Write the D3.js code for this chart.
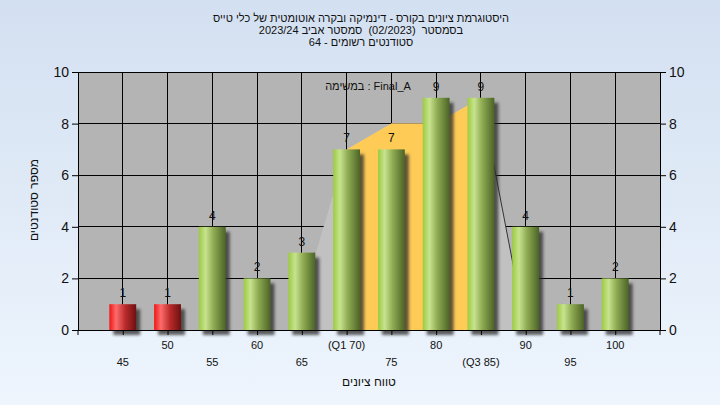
<!DOCTYPE html>
<html><head><meta charset="utf-8">
<script src="https://cdn.jsdelivr.net/npm/d3@7"></script>
<style>
html,body{margin:0;padding:0;}
svg{display:block;font-family:"Liberation Sans",Arial,sans-serif;}
text{white-space:pre;}
</style></head>
<body>
<svg id="c" width="720" height="405"></svg>
<script>
// ---- data ----
const bins = [45, 50, 55, 60, 65, 70, 75, 80, 85, 90, 95, 100];
const counts = [1, 1, 4, 2, 3, 7, 7, 9, 9, 4, 1, 2];
const failBins = [45, 50];
const xTickLabels = ["45", "50", "55", "60", "65", "(Q1 70)", "75", "80", "(Q3 85)", "90", "95", "100"];
const yTicks = [0, 2, 4, 6, 8, 10];
const q1 = 70, q3 = 85;
const areaX = [64, 70, 75, 80, 85, 90];
const areaY = [0, 7, 8, 8, 9, 0];
const titleLines = [
  "היסטוגרמת ציונים בקורס - דינמיקה ובקרה אוטומטית של כלי טייס",
  "בסמסטר  (02/2023)  סמסטר אביב 2023/24",
  "סטודנטים רשומים - 64"
];
const legendText = "במשימה : Final_A";
const xTitle = "טווח ציונים";
const yTitle = "מספר סטודנטים";

// ---- layout ----
const W = 720, H = 405;
const L = 78, R = 660, T = 72, B = 330;
const svg = d3.select("#c");
const defs = svg.append("defs");

const bg = defs.append("linearGradient").attr("id","bg").attr("x1",0).attr("y1",0).attr("x2",0).attr("y2",1);
bg.append("stop").attr("offset","0%").attr("stop-color","#d3e0f1");
bg.append("stop").attr("offset","100%").attr("stop-color","#eef5fd");

function cyl(id, stops){
  const g = defs.append("linearGradient").attr("id",id).attr("x1",0).attr("y1",0).attr("x2",1).attr("y2",0);
  stops.forEach(s=>g.append("stop").attr("offset",s[0]).attr("stop-color",s[1]));
}
cyl("gGreen", [["0%","#9ccb3f"],["25%","#c7e38f"],["55%","#8eab52"],["100%","#4c6326"]]);
cyl("gRed", [["0%","#ee1515"],["25%","#ff6b6b"],["60%","#b82a2a"],["100%","#6e1010"]]);

const blur = defs.append("filter").attr("id","blur").attr("x","-50%").attr("y","-50%").attr("width","200%").attr("height","200%");
blur.append("feGaussianBlur").attr("stdDeviation",1.8);

svg.append("rect").attr("width",W).attr("height",H).attr("fill","url(#bg)");

const x = d3.scaleLinear().domain([40,105]).range([L,R]);
const y = d3.scaleLinear().domain([0,10]).range([B,T]);

// plot background
svg.append("rect").attr("x",L).attr("y",T).attr("width",R-L).attr("height",B-T).attr("fill","#b4b4b4");

// grid
const grid = svg.append("g").attr("stroke","#000").attr("stroke-width",1).attr("shape-rendering","crispEdges");
yTicks.forEach(v=>grid.append("line").attr("x1",L).attr("x2",R).attr("y1",y(v)).attr("y2",y(v)));
bins.forEach(v=>grid.append("line").attr("x1",x(v)).attr("x2",x(v)).attr("y1",T).attr("y2",B));

// areas
const pts = areaX.map((v,i)=>[v, areaY[i]]);
const areaGen = d3.area().x(d=>x(d[0])).y0(y(0)).y1(d=>y(d[1]));
svg.append("path").attr("d", areaGen(pts)).attr("fill","#c1c1c1");
const iq = pts.filter(d=>d[0]>=q1 && d[0]<=q3);
svg.append("path").attr("d", areaGen(iq)).attr("fill","#ffcb57");
const lastTwo = pts.slice(-2);
svg.append("path").attr("d", d3.line().x(d=>x(d[0])).y(d=>y(d[1]))(lastTwo))
  .attr("stroke","#333").attr("stroke-width",1).attr("fill","none");

// bars
const bw = x(43) - x(40);
const bars = svg.append("g");
bins.forEach((b,i)=>{
  const v = counts[i];
  bars.append("rect").attr("x", x(b)-bw/2+4).attr("y", y(v)+5).attr("width", bw).attr("height", y(0)-y(v))
    .attr("fill","#2a2a2a").attr("opacity",0.75).attr("filter","url(#blur)");
});
bins.forEach((b,i)=>{
  const v = counts[i];
  bars.append("rect").attr("x", x(b)-bw/2).attr("y", y(v)).attr("width", bw).attr("height", y(0)-y(v))
    .attr("fill", failBins.includes(b) ? "url(#gRed)" : "url(#gGreen)");
  bars.append("text").attr("x", x(b)).attr("y", y(v)-7).attr("text-anchor","middle")
    .attr("font-size",12).attr("fill","#111").text(v);
});

// axes
const xAxis = svg.append("g").attr("transform",`translate(0,${B})`)
  .call(d3.axisBottom(x).tickValues(bins).tickFormat("").tickSize(5).tickSizeOuter(0));
xAxis.select(".domain").attr("stroke","#000");
xAxis.selectAll(".tick line").attr("stroke","#000");
bins.forEach((b,i)=>{
  svg.append("text").attr("x", x(b)).attr("y", i%2===0 ? 366 : 349).attr("text-anchor","middle")
    .attr("font-size",11).attr("fill","#111").text(xTickLabels[i]);
});

const yl = svg.append("g").attr("transform",`translate(${L},0)`)
  .call(d3.axisLeft(y).tickValues(yTicks).tickSize(6).tickSizeOuter(0).tickPadding(3));
yl.select(".domain").attr("stroke","#000");
yl.selectAll("text").attr("font-size",14).attr("fill","#111").attr("font-family","Liberation Sans, Arial, sans-serif");
const yr = svg.append("g").attr("transform",`translate(${R},0)`)
  .call(d3.axisRight(y).tickValues(yTicks).tickSize(6).tickSizeOuter(0).tickPadding(3));
yr.select(".domain").attr("stroke","#000");
yr.selectAll("text").attr("font-size",14).attr("fill","#111").attr("font-family","Liberation Sans, Arial, sans-serif");
// axis extensions below 0
[L,R].forEach(xx=>svg.append("line").attr("x1",xx).attr("x2",xx).attr("y1",B).attr("y2",B+5).attr("stroke","#000"));

// titles
titleLines.forEach((t,i)=>{
  svg.append("text").attr("x",361).attr("y",22+i*12).attr("text-anchor","middle").attr("direction","rtl")
    .attr("font-size",11).attr("fill","#111").text(t);
});
svg.append("text").attr("x",368).attr("y",90).attr("text-anchor","middle")
  .attr("font-size",11).attr("fill","#111").text(legendText);
svg.append("text").attr("x",369).attr("y",386).attr("text-anchor","middle").attr("direction","rtl")
  .attr("font-size",12).attr("fill","#111").text(xTitle);
svg.append("text").attr("transform","translate(38,200) rotate(-90)").attr("text-anchor","middle").attr("direction","rtl")
  .attr("font-size",12).attr("fill","#111").text(yTitle);
</script>
</body></html>
